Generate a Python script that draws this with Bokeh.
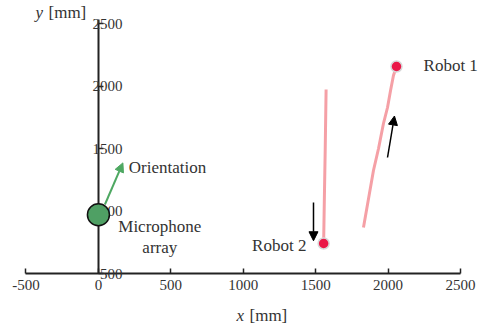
from bokeh.plotting import figure
from bokeh.models import Range1d, Arrow, NormalHead, FixedTicker, Label, LabelSet, ColumnDataSource
from bokeh.embed import file_html
from bokeh.resources import INLINE

# ---- data ----
x_ticks = [-500, 0, 500, 1000, 1500, 2000, 2500]
y_ticks = [500, 1000, 1500, 2000, 2500]

robot1_x = [1830, 1899, 1934, 1968, 1996, 2017, 2037, 2058]
robot1_y = [868, 1324, 1500, 1700, 1828, 1964, 2084, 2156]
robot2_x = [1572, 1566, 1560, 1555]
robot2_y = [1972, 1500, 1100, 740]

robot_pos_x = [2058, 1555]
robot_pos_y = [2156, 740]

mic_x = [0]
mic_y = [970]

orient_start = (45, 1052)
orient_end = (169, 1385)
arrow1_start = (1996, 1428)
arrow1_end = (2044, 1760)
arrow2_start = (1485, 1068)
arrow2_end = (1485, 762)

label_text = ["Robot 1", "Robot 2", "Orientation", "Microphone", "array"]
label_x = [2245, 1436, 210, 424, 424]
label_y = [2164, 724, 1345, 875, 710]
label_align = ["left", "right", "left", "center", "center"]

FONT = "Liberation Serif"
TXT = "#333333"

# the frame covers the whole canvas; axes are drawn at fixed data locations
p = figure(width=480, height=329, output_backend="svg", toolbar_location=None,
           x_range=Range1d(-676, 2638), y_range=Range1d(52, 2684),
           min_border=0, min_border_left=0, min_border_right=0,
           min_border_top=0, min_border_bottom=0)
p.outline_line_color = None
p.grid.visible = False
p.background_fill_color = "white"
p.border_fill_color = "white"

# x axis at y = 500
xa = p.xaxis[0]
xa.fixed_location = 500
xa.bounds = (-500, 2500)
xa.ticker = FixedTicker(ticks=x_ticks)
xa.major_label_overrides = {t: str(t) for t in x_ticks}
xa.major_tick_in = 5
xa.major_tick_out = 0
xa.minor_tick_line_color = None
xa.axis_line_width = 2
xa.major_tick_line_width = 1.5
xa.axis_line_color = "#222222"
xa.major_tick_line_color = "#222222"
xa.major_label_text_font = FONT
xa.major_label_text_font_size = "15px"
xa.major_label_text_color = TXT
xa.major_label_standoff = 6

# y axis at x = 0
ya = p.yaxis[0]
ya.fixed_location = 0
ya.bounds = (500, 2530)
ya.ticker = FixedTicker(ticks=y_ticks)
ya.major_label_overrides = {t: str(t) for t in y_ticks}
ya.major_tick_in = 5
ya.major_tick_out = 0
ya.minor_tick_line_color = None
ya.axis_line_width = 2
ya.major_tick_line_width = 1.5
ya.axis_line_color = "#222222"
ya.major_tick_line_color = "#222222"
ya.major_label_text_font = FONT
ya.major_label_text_font_size = "15px"
ya.major_label_text_color = TXT
ya.major_label_standoff = -24

# axis titles (screen units)
for txt, sx, sy, style in [("x", 236, 14, "italic"), ("[mm]", 249, 14, "normal"),
                           ("y", 35, 317, "italic"), ("[mm]", 48, 317, "normal")]:
    p.add_layout(Label(x=sx, y=sy, x_units="screen", y_units="screen", text=txt,
                       text_font=FONT, text_font_style=style, text_font_size="17px",
                       text_color=TXT, text_baseline="middle"))

# trajectories
p.line(robot1_x, robot1_y, line_color="#f5a0a6", line_width=3)
p.line(robot2_x, robot2_y, line_color="#f5a0a6", line_width=3)

# orientation arrow
p.add_layout(Arrow(x_start=orient_start[0], y_start=orient_start[1],
                   x_end=orient_end[0], y_end=orient_end[1],
                   line_color="#4ea862", line_width=2,
                   end=NormalHead(size=9, fill_color="#4ea862", line_color="#4ea862")))

# microphone array (drawn above the axis)
p.scatter(mic_x, mic_y, size=22, fill_color="#4fa064", line_color="#111111",
          line_width=1.5, level="overlay")

# robot positions
p.scatter(robot_pos_x, robot_pos_y, size=11, fill_color="#ea1747", line_color="#d8d8d8",
          line_width=1.5, level="overlay")

# motion arrows
for s, e in [(arrow1_start, arrow1_end), (arrow2_start, arrow2_end)]:
    p.add_layout(Arrow(x_start=s[0], y_start=s[1], x_end=e[0], y_end=e[1],
                       line_color="black", line_width=1.5,
                       end=NormalHead(size=9, fill_color="black", line_color="black")))

# labels
src = ColumnDataSource(dict(x=label_x, y=label_y, text=label_text, align=label_align))
p.add_layout(LabelSet(x="x", y="y", text="text", source=src, text_align="align",
                      text_font=FONT, text_font_size="17px", text_color=TXT,
                      text_baseline="middle"))

open("out.html", "w").write(file_html(p, INLINE))
